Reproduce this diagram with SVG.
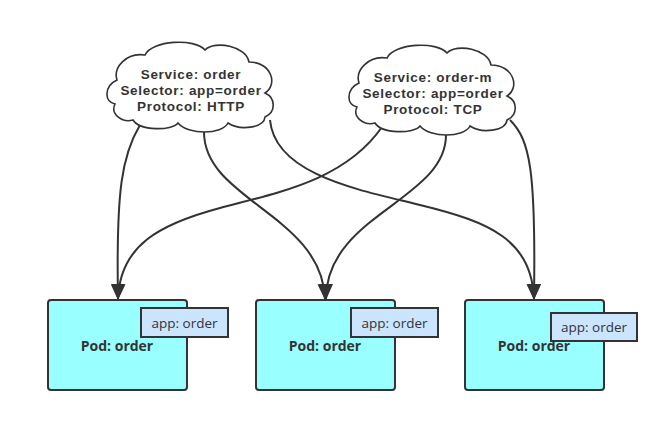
<svg xmlns="http://www.w3.org/2000/svg" width="670" height="423" viewBox="0 0 670 423">
<defs>
<style>
.cloud{fill:#fff;stroke:#333;stroke-width:1.6}
.ct{font-family:"Liberation Sans",Arial,sans-serif;font-weight:bold;font-size:13.5px;letter-spacing:0.7px;fill:#333;text-anchor:middle}
.pod{fill:#99ffff;stroke:#333;stroke-width:2}
.lab{fill:#cce5ff;stroke:#333;stroke-width:2}
.pt{font-family:"Open Sans","Liberation Sans",sans-serif;font-weight:bold;font-size:14px;fill:#333;text-anchor:middle}
.lt{font-family:"Open Sans","Liberation Sans",sans-serif;font-size:13.5px;fill:#333;text-anchor:middle}
.edge{fill:none;stroke:#333;stroke-width:2}
</style>
<marker id="arr" markerUnits="userSpaceOnUse" markerWidth="16" markerHeight="14" viewBox="0 0 16 14" refX="15" refY="7" orient="auto">
<path d="M0,0 L16,7 L0,14 Z" fill="#333"/>
</marker>
<path id="cloudShape" d="M133,120 C140,131 172,131 178,123 C188,135 222,135 228,123 C240,131 264,128 265,117 C276,112 276,98 265,93 C278,85 272,62 249,62 C246,46 215,40 205,50 C195,38 152,40 145,55 C126,52 113,68 117,80 C104,86 104,102 115,104 C110,114 122,123 133,120 Z"/>
</defs>
<rect width="670" height="423" fill="#fff"/>
<g id="connectors">
<path class="edge" d="M140,125 C122,155 116,190 118,299" marker-end="url(#arr)"/>
<path class="edge" d="M204,132 C204,200 322,215 325,299" marker-end="url(#arr)"/>
<path class="edge" d="M270,120 C275,175 360,190 420,205 C490,222 532,240 534,299" marker-end="url(#arr)"/>
<path class="edge" d="M382,127 C345,180 280,192 220,208 C160,224 120,245 118,299" marker-end="url(#arr)"/>
<path class="edge" d="M446,135 C446,200 326,215 326,299" marker-end="url(#arr)"/>
<path class="edge" d="M510,120 C530,140 536,170 534,299" marker-end="url(#arr)"/>
</g>
<g id="service-order">
<use href="#cloudShape" class="cloud"/>
<text class="ct" x="191" y="79">Service: order</text>
<text class="ct" x="191" y="95">Selector: app=order</text>
<text class="ct" x="191" y="111">Protocol: HTTP</text>
</g>
<g id="service-order-m">
<use href="#cloudShape" class="cloud" transform="translate(242,3)"/>
<text class="ct" x="433" y="82">Service: order-m</text>
<text class="ct" x="433" y="98">Selector: app=order</text>
<text class="ct" x="433" y="114">Protocol: TCP</text>
</g>
<g id="pod1">
<rect class="pod" x="48" y="300" width="139" height="90" rx="3"/>
<text class="pt" x="117" y="351">Pod: order</text>
<rect class="lab" x="141" y="308" width="87" height="29"/>
<text class="lt" x="184.5" y="328">app: order</text>
</g>
<g id="pod2">
<rect class="pod" x="256" y="300" width="139" height="90" rx="3"/>
<text class="pt" x="325" y="351">Pod: order</text>
<rect class="lab" x="351" y="308" width="87" height="29"/>
<text class="lt" x="394.5" y="328">app: order</text>
</g>
<g id="pod3">
<rect class="pod" x="465" y="300" width="139" height="90" rx="3"/>
<text class="pt" x="534" y="351">Pod: order</text>
<rect class="lab" x="551" y="313" width="86" height="28"/>
<text class="lt" x="594" y="332">app: order</text>
</g>
</svg>
